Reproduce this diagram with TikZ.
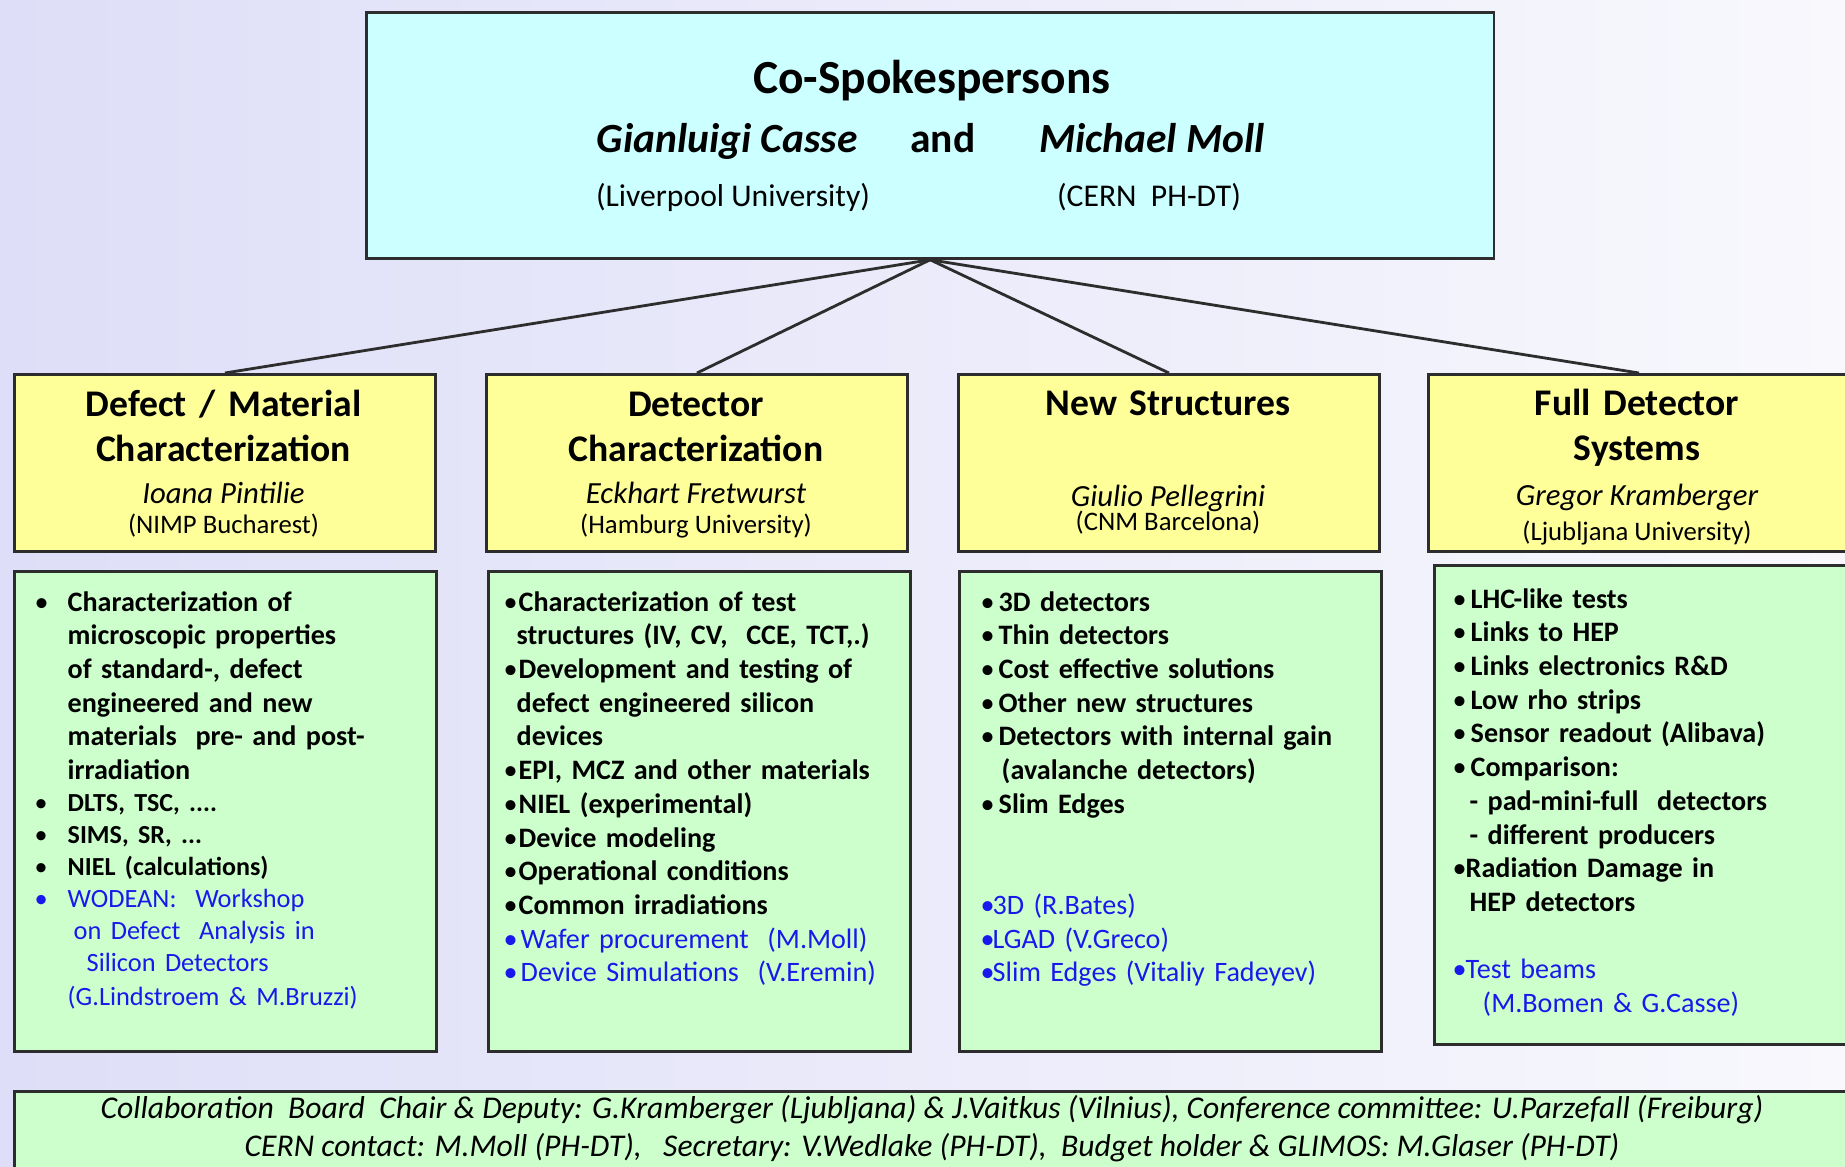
\documentclass[tikz,border=0pt]{standalone}
\usepackage{fontspec}
\setmainfont{Carlito}

\definecolor{bglila}{RGB}{222,222,248}
\definecolor{bghell}{RGB}{248,248,253}
\definecolor{leadfill}{RGB}{204,255,255}
\definecolor{wgfill}{RGB}{255,255,153}
\definecolor{taskfill}{RGB}{204,255,204}
\definecolor{rahmen}{RGB}{45,45,45}
\definecolor{linkblau}{RGB}{25,25,235}

\newcommand{\setfs}[2]{\fontsize{#1}{#2}\selectfont}
\newcommand{\bul}[1]{\makebox[#1][l]{\mdseries\textbullet}}
\newcommand{\ein}[1]{\hspace*{#1}}

\tikzset{
  kasten/.style={draw=rahmen, line width=0.75pt, anchor=north west, inner sep=0pt},
  leadbox/.style={kasten, fill=leadfill},
  wgbox/.style={kasten, fill=wgfill, minimum width=4.21cm, minimum height=1.77cm},
  taskbox/.style={kasten, fill=taskfill, minimum width=4.22cm, minimum height=4.8cm},
  txt/.style={inner sep=0pt, anchor=base},
  wgtitel/.style={txt, text width=4cm, align=center, font=\setfs{10.7pt}{13pt}\bfseries},
  wgname/.style={txt, font=\setfs{8.75pt}{10pt}\itshape},
  wgort/.style={txt, font=\setfs{7.6pt}{9pt}},
  liste/.style={inner sep=0pt, anchor=base west, text width=3.95cm, align=left, font=\setfs{8pt}{9.59pt}\bfseries},
  fuss/.style={txt, font=\setfs{9pt}{10pt}\itshape},
  verbinder/.style={draw=rahmen, line width=0.8pt},
}

\begin{document}
\begin{tikzpicture}[x=0.01cm, y=-0.01cm]
  \useasboundingbox (0,0) rectangle (1845,1166);
  \clip (0,0) rectangle (1845,1166);
  % 背景渐变
  \shade[left color=bglila, right color=bghell] (0,0) rectangle (1845,1166);

  % 发言人
  \node[leadbox, minimum width=11.27cm, minimum height=2.46cm] (lead) at (365,11) {};
  \node[txt, font=\setfs{13.5pt}{16pt}\bfseries] (titel) at (932,93) {Co-Spokespersons};
  \node[txt, font=\setfs{11.8pt}{14pt}\bfseries\itshape] (casse) at (727,152) {Gianluigi Casse};
  \node[txt, font=\setfs{11.8pt}{14pt}\bfseries] (und) at (943,152) {and};
  \node[txt, font=\setfs{11.8pt}{14pt}\bfseries\itshape] (moll) at (1152,152) {Michael Moll};
  \node[txt, font=\setfs{9pt}{11pt}] (liv) at (733,206) {(Liverpool University)};
  \node[txt, font=\setfs{9pt}{11pt}] (cern) at (1149,206) {(CERN\ \ PH-DT)};

  % 工作组
  \node[wgbox] (wg1) at (13,373) {};
  \node[wgbox] (wg2) at (485,373) {};
  \node[wgbox] (wg3) at (957,373) {};
  \node[wgbox] (wg4) at (1427,373) {};

  % 连线
  \draw[verbinder] (lead.south) -- (wg1.north);
  \draw[verbinder] (lead.south) -- (wg2.north);
  \draw[verbinder] (lead.south) -- (wg3.north);
  \draw[verbinder] (lead.south) -- (wg4.north);

  \node[wgtitel] (h1) at (223.5,416) {Defect / Material\\Characterization};
  \node[wgname] (n1) at (223.5,503) {Ioana Pintilie};
  \node[wgort] (o1) at (223.5,533) {(NIMP Bucharest)};

  \node[wgtitel] (h2) at (696,416) {Detector\\Characterization};
  \node[wgname] (n2) at (696,503) {Eckhart Fretwurst};
  \node[wgort] (o2) at (696,533) {(Hamburg University)};

  \node[wgtitel] (h3) at (1168,415) {New Structures};
  \node[wgname] (n3) at (1168,506) {Giulio Pellegrini};
  \node[wgort] (o3) at (1168,530) {(CNM Barcelona)};

  \node[wgtitel] (h4) at (1637,415) {Full Detector\\Systems};
  \node[wgname] (n4) at (1637,505) {Gregor Kramberger};
  \node[wgort] (o4) at (1637,540) {(Ljubljana University)};

  % 任务列表
  \node[taskbox] (tb1) at (13,570) {};
  \node[taskbox] (tb2) at (487,570) {};
  \node[taskbox] (tb3) at (958,570) {};
  \node[taskbox, minimum height=4.79cm] (tb4) at (1433,564) {};

  \node[liste] (l1) at (34,611) {%
    \bul{0.33cm}Characterization of\\
    \ein{0.33cm}microscopic properties\\
    \ein{0.33cm}of standard-, defect\\
    \ein{0.33cm}engineered and new\\
    \ein{0.33cm}materials\ \ pre- and post-\\
    \ein{0.33cm}irradiation\par
    \setfs{7.4pt}{9.1pt}%
    \bul{0.33cm}DLTS, TSC, ....\\
    \bul{0.33cm}SIMS, SR, ...\\
    \bul{0.33cm}NIEL (calculations)\par
    \setfs{7.5pt}{9.1pt}\mdseries\color{linkblau}%
    \bul{0.33cm}WODEAN:\ \ Workshop\\
    \ein{0.39cm}on Defect\ \ Analysis in\\
    \ein{0.52cm}Silicon Detectors\\
    \ein{0.33cm}(G.Lindstroem \& M.Bruzzi)};

  \node[liste] (l2) at (503,611) {%
    \bul{0.15cm}Characterization of test\\
    \ein{0.13cm}structures (IV, CV,\ \ CCE, TCT,.)\\
    \bul{0.15cm}Development and testing of\\
    \ein{0.13cm}defect engineered silicon\\
    \ein{0.13cm}devices\\
    \bul{0.15cm}EPI, MCZ and other materials\\
    \bul{0.15cm}NIEL (experimental)\\
    \bul{0.15cm}Device modeling\\
    \bul{0.15cm}Operational conditions\\
    \bul{0.15cm}Common irradiations\\
    \mdseries\color{linkblau}%
    \bul{0.17cm}Wafer procurement\ \ (M.Moll)\\
    \bul{0.17cm}Device Simulations\ \ (V.Eremin)};

  \node[liste] (l3) at (980,611) {%
    \bul{0.18cm}3D detectors\\
    \bul{0.18cm}Thin detectors\\
    \bul{0.18cm}Cost effective solutions\\
    \bul{0.18cm}Other new structures\\
    \bul{0.18cm}Detectors with internal gain\\
    \ein{0.21cm}(avalanche detectors)\\
    \bul{0.18cm}Slim Edges\\[19.18pt]
    \mdseries\color{linkblau}%
    \bul{0.12cm}3D (R.Bates)\\
    \bul{0.12cm}LGAD (V.Greco)\\
    \bul{0.12cm}Slim Edges (Vitaliy Fadeyev)};

  \node[liste] (l4) at (1452,608) {%
    \bul{0.18cm}LHC-like tests\\
    \bul{0.18cm}Links to HEP\\
    \bul{0.18cm}Links electronics R\&D\\
    \bul{0.18cm}Low rho strips\\
    \bul{0.18cm}Sensor readout (Alibava)\\
    \bul{0.18cm}Comparison:\\
    \ein{0.17cm}- pad-mini-full\ \ detectors\\
    \ein{0.17cm}- different producers\\
    \bul{0.13cm}Radiation Damage in\\
    \ein{0.17cm}HEP detectors\\[9.59pt]
    \mdseries\color{linkblau}%
    \bul{0.13cm}Test beams\\
    \ein{0.30cm}(M.Bomen \& G.Casse)};

  % 底部说明
  \node[kasten, fill=taskfill, minimum width=18.6cm, minimum height=1cm] (board) at (13,1090) {};
  \node[fuss] (zeile1) at (932,1118)
    {Collaboration\ \ Board\ \ Chair \& Deputy: G.Kramberger (Ljubljana) \& J.Vaitkus (Vilnius), Conference committee: U.Parzefall (Freiburg)};
  \node[fuss] (zeile2) at (932,1156)
    {CERN contact: M.Moll (PH-DT),\ \ \ Secretary: V.Wedlake (PH-DT),\ \ Budget holder \& GLIMOS: M.Glaser (PH-DT)};
\end{tikzpicture}
\end{document}
